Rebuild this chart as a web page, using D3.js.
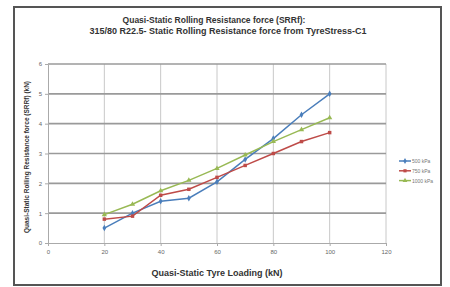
<!DOCTYPE html>
<html><head><meta charset="utf-8">
<script src="https://cdn.jsdelivr.net/npm/d3@7"></script>
<style>body{margin:0;background:#fff}svg{display:block}</style>
</head><body>
<script>
const loads = [20,30,40,50,60,70,80,90,100];
const s500 = [0.5,1.0,1.4,1.5,2.05,2.8,3.5,4.3,5.0];
const s750 = [0.8,0.9,1.6,1.8,2.2,2.6,3.0,3.4,3.7];
const s1000 = [0.95,1.3,1.75,2.1,2.5,2.95,3.4,3.8,4.2];
const seriesNames = ["500 kPa","750 kPa","1000 kPa"];
const colors = ["#4a7ebb","#be4b48","#98b954"];
const xTicks = [0,20,40,60,80,100,120];
const yTicks = [0,1,2,3,4,5,6];
const title1 = "Quasi-Static Rolling Resistance force (SRRf):";
const title2 = "315/80 R22.5- Static Rolling Resistance force from TyreStress-C1";
const xTitle = "Quasi-Static Tyre Loading (kN)";
const yTitle = "Quasi-Static  Rolling Resistance force (SRRf) (kN)";

const W=450,H=287;
const svg=d3.select("body").append("svg").attr("width",W).attr("height",H);
svg.append("rect").attr("x",14).attr("y",7).attr("width",427).attr("height",278)
  .attr("fill","#fff").attr("stroke","#555").attr("stroke-width",2);

const x=d3.scaleLinear().domain([0,120]).range([48,386]);
const y=d3.scaleLinear().domain([0,6]).range([243,64]);

// grid
svg.append("g").selectAll("line").data(xTicks.slice(1)).join("line")
  .attr("x1",d=>x(d)).attr("x2",d=>x(d)).attr("y1",y(6)).attr("y2",y(0))
  .attr("stroke","#c8c8c8").attr("stroke-width",1);
svg.append("g").selectAll("line").data(yTicks.slice(1)).join("line")
  .attr("x1",x(0)).attr("x2",x(120)).attr("y1",d=>y(d)).attr("y2",d=>y(d))
  .attr("stroke","#9a9a9a").attr("stroke-width",1.6);

const fs="'Liberation Sans', Arial, sans-serif";
const xa=svg.append("g").attr("transform",`translate(0,${y(0)})`)
  .call(d3.axisBottom(x).tickValues(xTicks).tickFormat(d3.format("d")).tickSize(3).tickSizeOuter(0));
const ya=svg.append("g").attr("transform",`translate(${x(0)},0)`)
  .call(d3.axisLeft(y).tickValues(yTicks).tickFormat(d3.format("d")).tickSize(3).tickSizeOuter(0));
[xa,ya].forEach(a=>{a.selectAll("path,line").attr("stroke","#aaa");
  a.selectAll("text").attr("fill","#666").style("font-family",fs).style("font-size","6px");});
xa.selectAll("text").attr("dy","0.9em");

const data=[s500,s750,s1000];
const line=d3.line().x((d,i)=>x(loads[i])).y(d=>y(d));
const sym=[d3.symbolDiamond,d3.symbolSquare,d3.symbolTriangle];
data.forEach((s,k)=>{
  svg.append("path").datum(s).attr("d",line).attr("fill","none")
    .attr("stroke",colors[k]).attr("stroke-width",1.5);
  svg.append("g").selectAll("path").data(s).join("path")
    .attr("transform",(d,i)=>`translate(${x(loads[i])},${y(d)})`)
    .attr("d",d3.symbol(sym[k],12)).attr("fill",colors[k]);
});

// legend
const lg=svg.append("g");
seriesNames.forEach((n,k)=>{
  const yy=161+k*9.8;
  lg.append("line").attr("x1",399).attr("x2",411).attr("y1",yy).attr("y2",yy)
    .attr("stroke",colors[k]).attr("stroke-width",1.5);
  lg.append("path").attr("transform",`translate(405,${yy})`).attr("d",d3.symbol(sym[k],10)).attr("fill",colors[k]);
  lg.append("text").attr("x",412).attr("y",yy+2).text(n)
    .style("font-family",fs).style("font-size","5px").attr("fill","#777");
});

svg.append("text").attr("x",214).attr("y",23).attr("text-anchor","middle").text(title1)
  .style("font-family",fs).style("font-size","8.5px").style("font-weight","bold").attr("fill","#333");
svg.append("text").attr("x",228).attr("y",34).attr("text-anchor","middle").text(title2)
  .style("font-family",fs).style("font-size","9px").style("font-weight","bold").attr("fill","#333");
svg.append("text").attr("x",217).attr("y",276).attr("text-anchor","middle").text(xTitle)
  .style("font-family",fs).style("font-size","9px").style("font-weight","bold").attr("fill","#333");
svg.append("text").attr("transform","translate(29,157) rotate(-90)").attr("text-anchor","middle").text(yTitle)
  .style("font-family",fs).style("font-size","6.5px").style("font-weight","bold").attr("fill","#333");
</script>
</body></html>
